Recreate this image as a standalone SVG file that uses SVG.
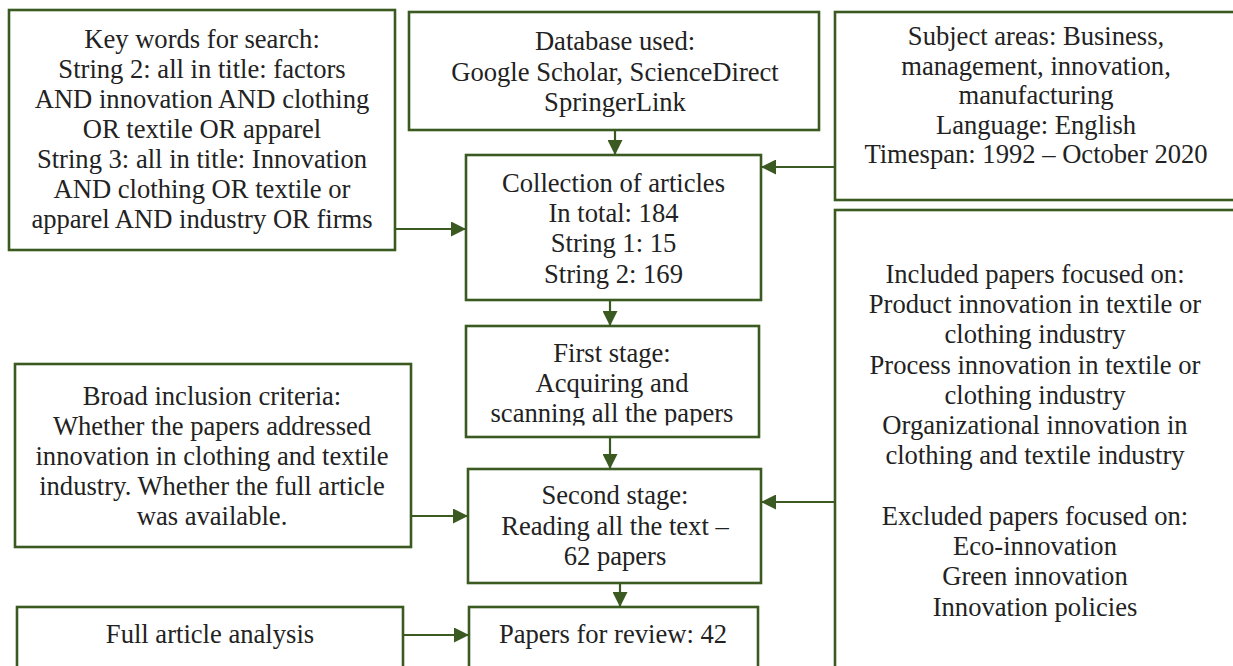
<svg xmlns="http://www.w3.org/2000/svg" width="1233" height="666" viewBox="0 0 1233 666">
<style>
.box{fill:#fff;stroke:#3b5a22;stroke-width:2.6}
.t{font-family:"Liberation Serif","Times New Roman",serif;font-size:26.6px;fill:#222;text-anchor:middle}
.c{stroke:#3b5a22;stroke-width:2.2;fill:none;marker-end:url(#ah)}
</style>
<defs>
<marker id="ah" markerUnits="userSpaceOnUse" markerWidth="15" markerHeight="15" viewBox="0 0 15 15" refX="15" refY="7.5" orient="auto">
<path d="M0,0 L15,7.5 L0,15 z" fill="#3b5a22"/>
</marker>
<clipPath id="clipFirst"><rect x="466" y="326" width="293" height="99.5"/></clipPath>
</defs>
<rect width="1233" height="666" fill="#fff"/>
<g id="connectors">
<line class="c" x1="615" y1="130" x2="615" y2="155"/>
<line class="c" x1="395" y1="229" x2="466" y2="229"/>
<line class="c" x1="835" y1="167" x2="761" y2="167"/>
<line class="c" x1="610" y1="300" x2="610" y2="326"/>
<line class="c" x1="610" y1="437" x2="610" y2="469"/>
<line class="c" x1="411" y1="516" x2="468" y2="516"/>
<line class="c" x1="835" y1="502" x2="761" y2="502"/>
<line class="c" x1="620" y1="583" x2="620" y2="607"/>
<line class="c" x1="403" y1="635" x2="469" y2="635"/>
</g>
<g id="keywords">
<rect class="box" x="9" y="10" width="386" height="240"/>
<text class="t" x="202" y="48">Key words for search:</text>
<text class="t" x="202" y="78">String 2: all in title: factors</text>
<text class="t" x="202" y="108">AND innovation AND clothing</text>
<text class="t" x="202" y="138">OR textile OR apparel</text>
<text class="t" x="202" y="168">String 3: all in title: Innovation</text>
<text class="t" x="202" y="198">AND clothing OR textile or</text>
<text class="t" x="202" y="228">apparel AND industry OR firms</text>
</g>
<g id="database">
<rect class="box" x="409" y="12" width="410" height="118"/>
<text class="t" x="615" y="50">Database used:</text>
<text class="t" x="615" y="80.5">Google Scholar, ScienceDirect</text>
<text class="t" x="615" y="111">SpringerLink</text>
</g>
<g id="subject">
<rect class="box" x="835" y="12" width="410" height="188"/>
<text class="t" x="1036" y="45">Subject areas: Business,</text>
<text class="t" x="1036" y="74.5">management, innovation,</text>
<text class="t" x="1036" y="104">manufacturing</text>
<text class="t" x="1036" y="133.5">Language: English</text>
<text class="t" x="1036" y="163">Timespan: 1992 – October 2020</text>
</g>
<g id="collection">
<rect class="box" x="466" y="155" width="295" height="145"/>
<text class="t" x="613.5" y="192">Collection of articles</text>
<text class="t" x="613.5" y="222">In total: 184</text>
<text class="t" x="613.5" y="252">String 1: 15</text>
<text class="t" x="613.5" y="283">String 2: 169</text>
</g>
<g id="first">
<rect class="box" x="466" y="326" width="293" height="111"/>
<g clip-path="url(#clipFirst)">
<text class="t" x="612" y="362">First stage:</text>
<text class="t" x="612" y="392">Acquiring and</text>
<text class="t" x="612" y="422">scanning all the papers</text>
</g>
</g>
<g id="broad">
<rect class="box" x="15" y="364" width="396" height="183"/>
<text class="t" x="212" y="405">Broad inclusion criteria:</text>
<text class="t" x="212" y="435">Whether the papers addressed</text>
<text class="t" x="212" y="465">innovation in clothing and textile</text>
<text class="t" x="212" y="495">industry. Whether the full article</text>
<text class="t" x="212" y="525">was available.</text>
</g>
<g id="second">
<rect class="box" x="468" y="469" width="293" height="114"/>
<text class="t" x="615" y="504">Second stage:</text>
<text class="t" x="615" y="535">Reading all the text –</text>
<text class="t" x="615" y="565">62 papers</text>
</g>
<g id="included">
<rect class="box" x="835" y="210" width="410" height="480"/>
<text class="t" x="1035" y="283">Included papers focused on:</text>
<text class="t" x="1035" y="313">Product innovation in textile or</text>
<text class="t" x="1035" y="343">clothing industry</text>
<text class="t" x="1035" y="373.5">Process innovation in textile or</text>
<text class="t" x="1035" y="403.5">clothing industry</text>
<text class="t" x="1035" y="434">Organizational innovation in</text>
<text class="t" x="1035" y="464">clothing and textile industry</text>
<text class="t" x="1035" y="525">Excluded papers focused on:</text>
<text class="t" x="1035" y="555">Eco-innovation</text>
<text class="t" x="1035" y="585">Green innovation</text>
<text class="t" x="1035" y="615.5">Innovation policies</text>
</g>
<g id="full">
<rect class="box" x="17" y="607" width="386" height="80"/>
<text class="t" x="210" y="643">Full article analysis</text>
</g>
<g id="papers">
<rect class="box" x="469" y="607" width="289" height="80"/>
<text class="t" x="613" y="643">Papers for review: 42</text>
</g>
</svg>
